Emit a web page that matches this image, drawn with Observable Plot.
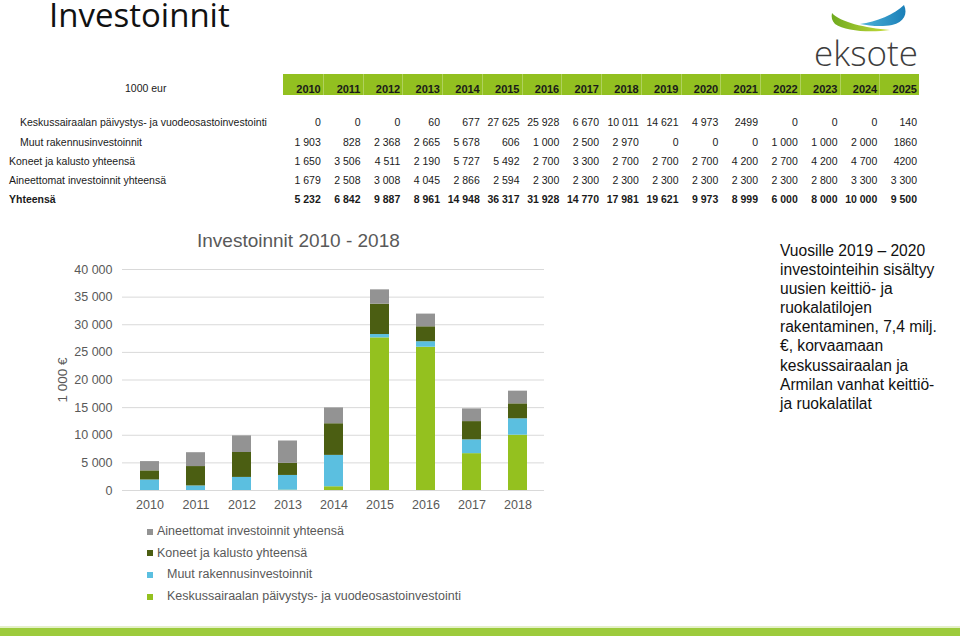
<!DOCTYPE html>
<html>
<head>
<meta charset="utf-8">
<script src="https://cdn.jsdelivr.net/npm/d3@7"></script>
<script src="https://cdn.jsdelivr.net/npm/@observablehq/plot@0.6"></script>
<style>
  html, body { margin: 0; padding: 0; background: #fff; }
  #page { position: relative; width: 960px; height: 640px; overflow: hidden; font-family: "Liberation Sans", Arial, sans-serif; color: #1a1a1a; }
  .abs { position: absolute; white-space: nowrap; }
  #title { left: 49px; top: 1px; font-family: "Open Sans", sans-serif; font-size: 33px; line-height: 27px; color: #111; }
  .cell { position: absolute; font-size: 10.5px; line-height: 12px; text-align: right; white-space: nowrap; }
  .hdr { font-size: 11px; font-weight: bold; color: #1a1a1a; }
  .lbl { position: absolute; font-size: 10.5px; line-height: 12px; white-space: nowrap; }
  #charttitle { left: 197px; top: 230px; font-size: 19px; color: #595959; }
  #note { left: 780px; top: 241px; font-size: 15.6px; line-height: 19.1px; color: #111; white-space: normal; }
  .leg { position: absolute; font-size: 12.5px; color: #595959; white-space: nowrap; line-height: 14px; }
  .sw { position: absolute; width: 6px; height: 6px; }
  #chart { position: absolute; left: 40px; top: 230px; }
  #bottomline { position: absolute; left: 0; top: 628px; width: 960px; height: 8px; background: #9dcb3c; }
  #bottomline2 { position: absolute; left: 0; top: 626px; width: 960px; height: 2px; background: #e4f0c8; }
</style>
</head>
<body>
<div id="page">
  <div id="title" class="abs">Investoinnit</div>
  <svg class="abs" style="left:820px;top:0px" width="110" height="40" viewBox="0 0 110 40">
    <defs>
      <linearGradient id="gb" x1="0" x2="1" y1="0" y2="0">
        <stop offset="0" stop-color="#4fb3d9"/>
        <stop offset="1" stop-color="#1a7fb8"/>
      </linearGradient>
      <linearGradient id="gg" x1="0" x2="1" y1="0" y2="0">
        <stop offset="0" stop-color="#6faa1e"/>
        <stop offset="1" stop-color="#c8dc3c"/>
      </linearGradient>
    </defs>
    <path d="M12,13 C20,22 45,28 70,30 C50,33 25,31 15,24 C12,21 11,17 12,13 Z" fill="url(#gg)"/>
    <path d="M40,24 C56,22 75,14 84,5 C88,14 84,22 72,25 C62,27 50,26 40,24 Z" fill="url(#gb)"/>
  </svg>
  <div class="abs" style="left:814px;top:29px;font-family:'Open Sans',sans-serif;font-weight:300;font-size:35px;color:#3d3d3d">eksote</div>
  <div id="table"></div>
  <div id="charttitle" class="abs">Investoinnit 2010 - 2018</div>
  <div id="chart"></div>
  <div id="legend"></div>
  <div id="note" class="abs">Vuosille 2019 – 2020<br>investointeihin sisältyy<br>uusien keittiö- ja<br>ruokalatilojen<br>rakentaminen, 7,4 milj.<br>€, korvaamaan<br>keskussairaalan ja<br>Armilan vanhat keittiö-<br>ja ruokalatilat</div>
  <div id="bottomline2"></div>
  <div id="bottomline"></div>
</div>
<script>
// ---- Data ----
const years = ["2010","2011","2012","2013","2014","2015","2016","2017","2018","2019","2020","2021","2022","2023","2024","2025"];
const rowLabels = [
  "Keskussairaalan päivystys- ja vuodeosastoinvestointi",
  "Muut rakennusinvestoinnit",
  "Koneet ja kalusto yhteensä",
  "Aineettomat investoinnit yhteensä",
  "Yhteensä"
];
const keskus  = [0, 0, 0, 60, 677, 27625, 25928, 6670, 10011, 14621, 4973, 2499, 0, 0, 0, 140];
const muut    = [1903, 828, 2368, 2665, 5678, 606, 1000, 2500, 2970, 0, 0, 0, 1000, 1000, 2000, 1860];
const koneet  = [1650, 3506, 4511, 2190, 5727, 5492, 2700, 3300, 2700, 2700, 2700, 4200, 2700, 4200, 4700, 4200];
const aineet  = [1679, 2508, 3008, 4045, 2866, 2594, 2300, 2300, 2300, 2300, 2300, 2300, 2300, 2800, 3300, 3300];
const totals  = [5232, 6842, 9887, 8961, 14948, 36317, 31928, 14770, 17981, 19621, 9973, 8999, 6000, 8000, 10000, 9500];
// cells printed without thousands separator in the source table: [row, col]
const ungrouped = [[0, 11], [1, 15], [2, 15]];
const chartYears = years.slice(0, 9);
const seriesNames = rowLabels.slice(0, 4);
const seriesColors = ["#94c11f", "#5bbfe0", "#4b5e12", "#939393"];
const yTicks = [0, 5000, 10000, 15000, 20000, 25000, 30000, 35000, 40000];
const legendOrder = [3, 2, 1, 0];

// ---- Table ----
const fi = d3.formatLocale({decimal: ",", thousands: "\u00a0", grouping: [3], currency: ["", " €"]});
const fmt = fi.format(",d");
const rows = [keskus, muut, koneet, aineet, totals];
const table = document.getElementById("table");
const colX0 = 283, colW = 39.75;
const rowY = [122, 141.5, 161, 180, 199];
const labelX = [20, 20, 9, 9, 9];
let html = "";
html += `<div style="position:absolute;left:${colX0}px;top:74px;width:${colW*16}px;height:21px;background:#92c020"></div>`;
for (let i = 1; i < 16; i++) {
  html += `<div style="position:absolute;left:${colX0 + i*colW}px;top:74px;width:1px;height:21px;background:rgba(255,255,255,0.28)"></div>`;
}
html += `<div class="lbl" style="left:125px;top:82px">1000 eur</div>`;
years.forEach((y, i) => {
  html += `<div class="cell hdr" style="left:${colX0 + i*colW}px;width:${colW - 2}px;top:83px">${y}</div>`;
});
rows.forEach((r, ri) => {
  const bold = ri === 4 ? "font-weight:bold;" : "";
  html += `<div class="lbl" style="left:${labelX[ri]}px;top:${rowY[ri]-6}px;${bold}">${rowLabels[ri]}</div>`;
  r.forEach((v, ci) => {
    const raw = ungrouped.some(([a, b]) => a === ri && b === ci);
    html += `<div class="cell" style="left:${colX0 + ci*colW}px;width:${colW - 2}px;top:${rowY[ri]-6}px;${bold}">${raw ? String(v) : fmt(v)}</div>`;
  });
});
table.innerHTML = html;

// ---- Chart ----
const data = [];
chartYears.forEach((y, i) => {
  [keskus, muut, koneet, aineet].forEach((s, si) => {
    data.push({year: y, series: seriesNames[si], value: s[i]});
  });
});

const chart = Plot.plot({
  width: 520,
  height: 290,
  marginLeft: 82,
  marginRight: 16,
  marginTop: 39,
  marginBottom: 30,
  style: {fontFamily: "Liberation Sans, Arial, sans-serif", fontSize: "12px", color: "#595959", background: "transparent"},
  x: {domain: chartYears, paddingInner: 0.59, paddingOuter: 0.33},
  y: {domain: [0, 40000]},
  color: {domain: seriesNames, range: seriesColors},
  marks: [
    Plot.gridY(yTicks, {stroke: "#d9d9d9", strokeOpacity: 1, strokeWidth: 1}),
    Plot.barY(data, {x: "year", y: "value", fill: "series"}),
    Plot.axisY(yTicks, {tickSize: 0, tickPadding: 10, tickFormat: fmt, fontSize: 12.5, label: null, fill: "#595959"}),
    Plot.axisY({ticks: [], tickSize: 0, label: "1 000 €", labelAnchor: "center", labelArrow: "none", labelOffset: 65, fontSize: 13.5, fill: "#595959"}),
    Plot.axisX({tickSize: 0, tickPadding: 10, label: null, fontSize: 12.5, fill: "#595959"})
  ]
});
document.getElementById("chart").appendChild(chart);

// ---- Legend ----
const legY = [531.5, 553, 574.5, 596.5];
const legTextX = [157, 157, 167, 167];
let lh = "";
legendOrder.forEach((si, k) => {
  lh += `<div class="sw" style="left:147px;top:${legY[k]-3}px;background:${seriesColors[si]}"></div>`;
  lh += `<div class="leg" style="left:${legTextX[k]}px;top:${legY[k]-7.5}px">${seriesNames[si]}</div>`;
});
document.getElementById("legend").innerHTML = lh;
</script>
</body>
</html>
